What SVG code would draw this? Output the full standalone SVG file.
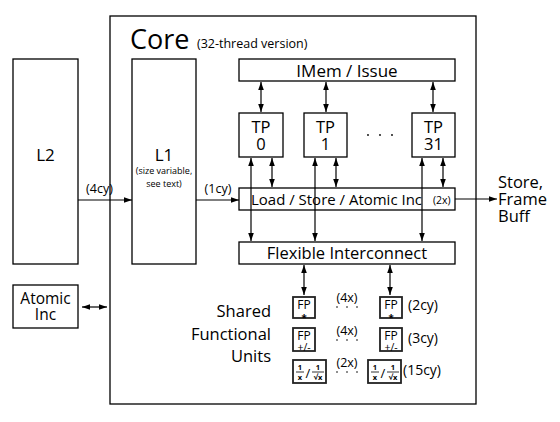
<svg xmlns="http://www.w3.org/2000/svg" width="560" height="422" viewBox="0 0 560 422">
<defs>
<style>
text{font-family:"Open Sans","Noto Sans","DejaVu Sans",sans-serif;fill:#000}
.box{fill:#fff;stroke:#000;stroke-width:1.3}
.fp{fill:#fff;stroke:#222;stroke-width:1.8}
.ln{stroke:#000;stroke-width:1.2;fill:none}
.c{text-anchor:middle}
.dot{fill:#000}
.fr{font-size:7.5px;font-weight:bold}
.bar{stroke:#000;stroke-width:0.8}
</style>
<marker id="ah" viewBox="0 0 10 10" refX="10" refY="5" markerWidth="8" markerHeight="8" markerUnits="userSpaceOnUse" orient="auto-start-reverse">
<path d="M0,1.5 L10,5 L0,8.5 z" fill="#000"/>
</marker>
</defs>
<rect width="560" height="422" fill="#fff"/>

<g id="core">
<rect class="box" x="110" y="16" width="366" height="388"/>
<text x="130" y="49" font-size="27">Core</text>
<text x="197" y="48" font-size="12.5">(32-thread version)</text>
</g>

<g id="l2">
<rect class="box" x="13" y="59" width="65" height="205"/>
<text class="c" x="45.5" y="161" font-size="17">L2</text>
</g>

<g id="l1">
<rect class="box" x="132" y="59" width="64" height="205"/>
<text class="c" x="164" y="161" font-size="17">L1</text>
<text class="c" font-size="9"><tspan x="164" y="174">(size variable,</tspan><tspan x="164" y="187">see text)</tspan></text>
</g>

<g id="atomic">
<rect class="box" x="13" y="285" width="65" height="43"/>
<text class="c" font-size="15.5"><tspan x="45.5" y="304">Atomic</tspan><tspan x="45.5" y="320">Inc</tspan></text>
</g>

<g id="imem">
<rect class="box" x="239" y="59" width="216" height="22"/>
<text class="c" x="347" y="77" font-size="17">IMem / Issue</text>
</g>

<g id="tp0">
<rect class="box" x="239" y="113" width="44" height="44"/>
<text class="c" font-size="16.5"><tspan x="261" y="133">TP</tspan><tspan x="261" y="150">0</tspan></text>
</g>
<g id="tp1">
<rect class="box" x="304" y="113" width="43" height="44"/>
<text class="c" font-size="16.5"><tspan x="325.5" y="133">TP</tspan><tspan x="325.5" y="150">1</tspan></text>
</g>
<g id="tp31">
<rect class="box" x="412" y="113" width="43" height="44"/>
<text class="c" font-size="16.5"><tspan x="433.5" y="133">TP</tspan><tspan x="433.5" y="150">31</tspan></text>
</g>
<g id="tp-dots">
<circle class="dot" cx="368" cy="135" r="0.9"/>
<circle class="dot" cx="380" cy="135" r="0.9"/>
<circle class="dot" cx="392" cy="135" r="0.9"/>
</g>

<g id="ls">
<rect class="box" x="239" y="188" width="216" height="22"/>
<text x="251" y="205" font-size="15" textLength="171" lengthAdjust="spacingAndGlyphs">Load / Store / Atomic Inc</text>
<text x="433" y="204" font-size="10.5">(2x)</text>
</g>

<g id="fi">
<rect class="box" x="239" y="242" width="216" height="22"/>
<text class="c" x="347" y="259" font-size="16.5">Flexible Interconnect</text>
</g>

<g id="store">
<text font-size="16.5"><tspan x="498" y="188">Store,</tspan><tspan x="498" y="205">Frame</tspan><tspan x="498" y="222">Buff</tspan></text>
</g>

<g id="sfu-label">
<text font-size="16.5" text-anchor="end"><tspan x="271" y="317">Shared</tspan><tspan x="271" y="340">Functional</tspan><tspan x="271" y="362">Units</tspan></text>
</g>

<g id="fpmul1">
<rect class="fp" x="293" y="297" width="22" height="21"/>
<text class="c"><tspan x="304" y="308.5" font-size="12">FP</tspan><tspan x="304" y="320.5" font-size="9.5" font-weight="bold">*</tspan></text>
</g>
<g id="fpmul2">
<rect class="fp" x="380" y="297" width="22" height="21"/>
<text class="c"><tspan x="391" y="308.5" font-size="12">FP</tspan><tspan x="391" y="320.5" font-size="9.5" font-weight="bold">*</tspan></text>
</g>
<g id="fpadd1">
<rect class="fp" x="293" y="328" width="22" height="23"/>
<text class="c"><tspan x="304" y="340" font-size="12">FP</tspan><tspan x="304" y="350.5" font-size="10.5">+/-</tspan></text>
</g>
<g id="fpadd2">
<rect class="fp" x="380" y="328" width="22" height="23"/>
<text class="c"><tspan x="391" y="340" font-size="12">FP</tspan><tspan x="391" y="350.5" font-size="10.5">+/-</tspan></text>
</g>
<g id="recip1">
<rect class="fp" x="293" y="360" width="33" height="23"/>
<text class="c"><tspan class="fr" x="300" y="369.5">1</tspan><tspan class="fr" x="300" y="380">x</tspan><tspan x="308" y="378" font-size="13">/</tspan><tspan class="fr" x="318" y="369.5">1</tspan><tspan class="fr" x="318" y="380">√x</tspan></text>
<line class="bar" x1="296" y1="372" x2="304" y2="372"/>
<line class="bar" x1="312" y1="372" x2="324" y2="372"/>
</g>
<g id="recip2">
<rect class="fp" x="368" y="360" width="33" height="23"/>
<text class="c"><tspan class="fr" x="375" y="369.5">1</tspan><tspan class="fr" x="375" y="380">x</tspan><tspan x="383" y="378" font-size="13">/</tspan><tspan class="fr" x="393" y="369.5">1</tspan><tspan class="fr" x="393" y="380">√x</tspan></text>
<line class="bar" x1="371" y1="372" x2="379" y2="372"/>
<line class="bar" x1="387" y1="372" x2="399" y2="372"/>
</g>

<g id="sfu-notes">
<text class="c" x="347" y="302" font-size="12.5">(4x)</text>
<text class="c" x="347" y="335" font-size="12.5">(4x)</text>
<text class="c" x="347" y="367" font-size="12.5">(2x)</text>
<text x="408" y="310" font-size="14">(2cy)</text>
<text x="408" y="343" font-size="14">(3cy)</text>
<text x="403" y="375" font-size="14">(15cy)</text>
</g>
<g id="sfu-dots">
<circle class="dot" cx="337" cy="307" r="0.8"/><circle class="dot" cx="347" cy="307" r="0.8"/><circle class="dot" cx="357" cy="307" r="0.8"/>
<circle class="dot" cx="337" cy="340" r="0.8"/><circle class="dot" cx="347" cy="340" r="0.8"/><circle class="dot" cx="357" cy="340" r="0.8"/>
<circle class="dot" cx="337" cy="372" r="0.8"/><circle class="dot" cx="347" cy="372" r="0.8"/><circle class="dot" cx="357" cy="372" r="0.8"/>
</g>

<g id="connectors">
<line class="ln" x1="78" y1="200" x2="132" y2="200" marker-end="url(#ah)"/>
<text class="c" x="99.5" y="193" font-size="12.5">(4cy)</text>
<line class="ln" x1="196" y1="200" x2="239" y2="200" marker-end="url(#ah)"/>
<text class="c" x="218" y="193" font-size="12.5">(1cy)</text>
<line class="ln" x1="82" y1="307" x2="107" y2="307" marker-start="url(#ah)" marker-end="url(#ah)"/>

<line class="ln" x1="261" y1="82" x2="261" y2="112" marker-start="url(#ah)" marker-end="url(#ah)"/>
<line class="ln" x1="326" y1="82" x2="326" y2="112" marker-start="url(#ah)" marker-end="url(#ah)"/>
<line class="ln" x1="433" y1="82" x2="433" y2="112" marker-start="url(#ah)" marker-end="url(#ah)"/>

<line class="ln" x1="251" y1="158" x2="251" y2="241" marker-start="url(#ah)" marker-end="url(#ah)"/>
<line class="ln" x1="315" y1="158" x2="315" y2="241" marker-start="url(#ah)" marker-end="url(#ah)"/>
<line class="ln" x1="422" y1="158" x2="422" y2="241" marker-start="url(#ah)" marker-end="url(#ah)"/>

<line class="ln" x1="272" y1="158" x2="272" y2="187" marker-start="url(#ah)" marker-end="url(#ah)"/>
<line class="ln" x1="336" y1="158" x2="336" y2="187" marker-start="url(#ah)" marker-end="url(#ah)"/>
<line class="ln" x1="443" y1="158" x2="443" y2="187" marker-start="url(#ah)" marker-end="url(#ah)"/>

<line class="ln" x1="455" y1="199" x2="497" y2="199" marker-end="url(#ah)"/>

<line class="ln" x1="304" y1="265" x2="304" y2="295" marker-start="url(#ah)" marker-end="url(#ah)"/>
<line class="ln" x1="390" y1="265" x2="390" y2="295" marker-start="url(#ah)" marker-end="url(#ah)"/>
</g>
</svg>
